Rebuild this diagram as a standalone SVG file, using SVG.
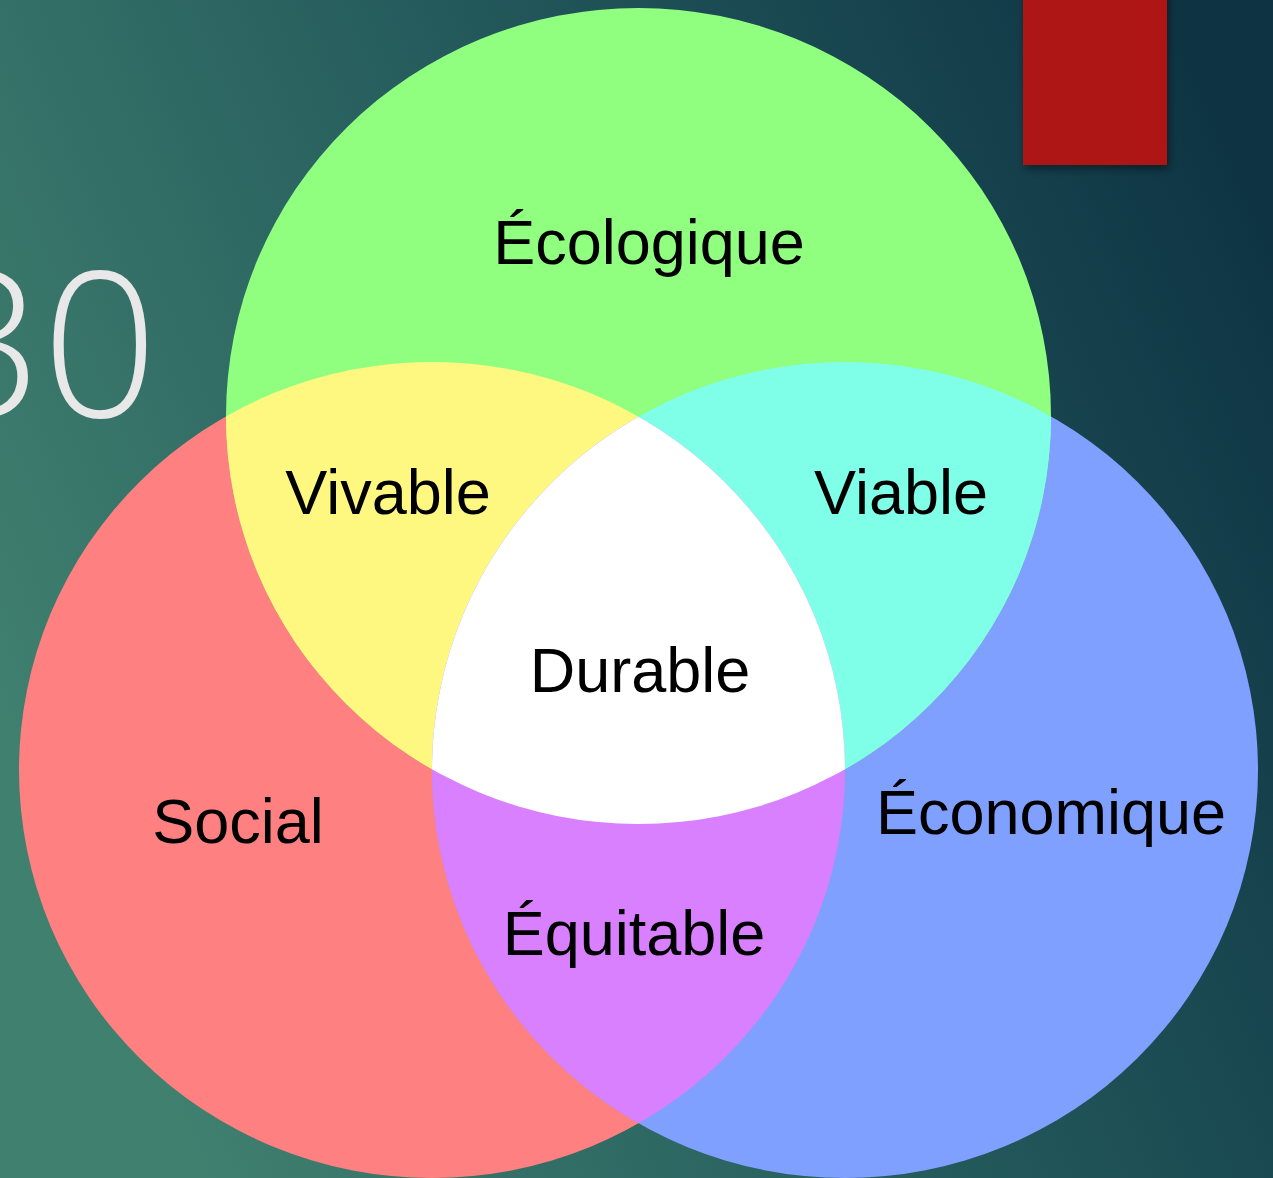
<svg xmlns="http://www.w3.org/2000/svg" xmlns:xlink="http://www.w3.org/1999/xlink" width="1273" height="1178" viewBox="0 0 1273 1178">
  <defs>
    <linearGradient id="bg" x1="0" y1="0.6" x2="1" y2="0.2">
      <stop offset="0" stop-color="#40806f"/>
      <stop offset="0.5" stop-color="#245a5c"/>
      <stop offset="1" stop-color="#0e3444"/>
    </linearGradient>
    <filter id="shadow" x="-20%" y="-20%" width="140%" height="140%">
      <feDropShadow dx="2" dy="4" stdDeviation="4" flood-color="#000" flood-opacity="0.45"/>
    </filter>
    <ellipse id="eco" cx="638.5" cy="416" rx="412.5" ry="408"/>
    <ellipse id="soc" cx="432" cy="770" rx="413" ry="408"/>
    <ellipse id="econ" cx="845" cy="770" rx="413" ry="408"/>
    <clipPath id="clipEco"><use xlink:href="#eco"/></clipPath>
    <clipPath id="clipSoc"><use xlink:href="#soc"/></clipPath>
    <clipPath id="clipEcon"><use xlink:href="#econ"/></clipPath>
  </defs>
  <style>
    .lbl { font-family: "Liberation Sans", Arial, sans-serif; font-size: 63px; fill: #000; text-anchor: middle; }
  </style>
  <rect width="1273" height="1178" fill="url(#bg)"/>
  <text x="158" y="417" font-family="'Open Sans', 'Noto Sans', sans-serif" font-weight="300" font-size="203" fill="#e8e8e8" text-anchor="end">30</text>
  <rect id="accent" x="1023" y="-10" width="144" height="175" fill="#ae1614" filter="url(#shadow)"/>

  <g id="circles">
    <use xlink:href="#soc" fill="#ff8080"/>
    <use xlink:href="#econ" fill="#80a0ff"/>
    <use xlink:href="#eco" fill="#90ff80"/>
    <g clip-path="url(#clipSoc)"><use xlink:href="#eco" fill="#fff880"/></g>
    <g clip-path="url(#clipEcon)"><use xlink:href="#eco" fill="#80ffe8"/></g>
    <g clip-path="url(#clipSoc)"><use xlink:href="#econ" fill="#d880ff"/></g>
    <g clip-path="url(#clipSoc)"><g clip-path="url(#clipEcon)"><use xlink:href="#eco" fill="#ffffff"/></g></g>
  </g>

  <g id="node-ecologique"><text class="lbl" x="649" y="264">Écologique</text></g>
  <g id="node-vivable"><text class="lbl" x="388" y="514">Vivable</text></g>
  <g id="node-viable"><text class="lbl" x="901" y="514">Viable</text></g>
  <g id="node-durable"><text class="lbl" x="640" y="692">Durable</text></g>
  <g id="node-social"><text class="lbl" x="238" y="843">Social</text></g>
  <g id="node-economique"><text class="lbl" x="1051" y="834">Économique</text></g>
  <g id="node-equitable"><text class="lbl" x="634" y="955">Équitable</text></g>
  <g id="connectors"></g>
</svg>
